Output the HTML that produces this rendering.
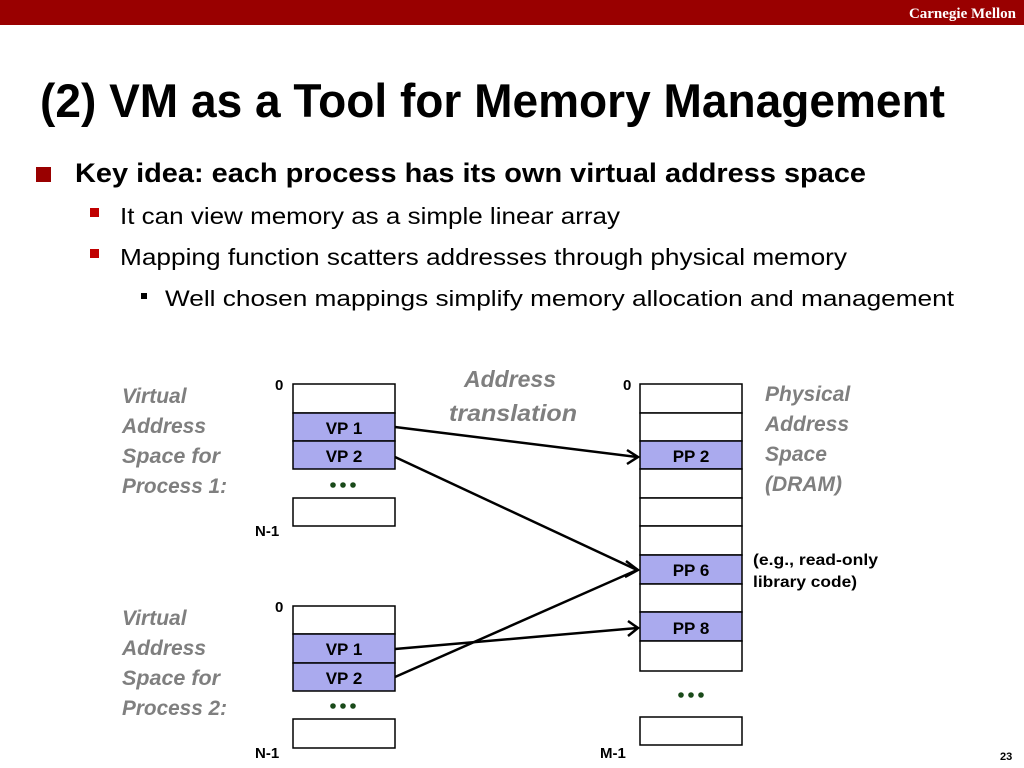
<!DOCTYPE html>
<html><head><meta charset="utf-8"><style>
html,body{margin:0;padding:0;background:#fff;}
svg{display:block;}
text{font-family:"Liberation Sans",sans-serif;}
</style></head><body>
<svg width="1024" height="768" viewBox="0 0 1024 768" xmlns="http://www.w3.org/2000/svg">
<rect x="0" y="0" width="1024" height="25" fill="#990000"/>
<text x="1016" y="18" text-anchor="end" font-weight="bold" font-size="15" fill="#fff" style="font-family:'Liberation Serif',serif">Carnegie Mellon</text>
<text x="40" y="117" font-weight="bold" font-size="47" textLength="905" lengthAdjust="spacingAndGlyphs" fill="#000">(2) VM as a Tool for Memory Management</text>
<rect x="36" y="167" width="15" height="15" fill="#990000"/>
<text x="75" y="182" font-weight="bold" font-size="27" textLength="791" lengthAdjust="spacingAndGlyphs">Key idea: each process has its own virtual address space</text>
<rect x="90" y="208" width="9" height="9" fill="#c00000"/>
<text x="120" y="224" font-size="23" textLength="500" lengthAdjust="spacingAndGlyphs">It can view memory as a simple linear array</text>
<rect x="90" y="249" width="9" height="9" fill="#c00000"/>
<text x="120" y="265" font-size="23" textLength="727" lengthAdjust="spacingAndGlyphs">Mapping function scatters addresses through physical memory</text>
<rect x="141" y="293" width="6" height="6" fill="#000"/>
<text x="165" y="306" font-size="22" textLength="789" lengthAdjust="spacingAndGlyphs">Well chosen mappings simplify memory allocation and management</text>

<g font-weight="bold" font-style="italic" font-size="21" fill="#7f7f7f">
<text x="122" y="403">Virtual</text><text x="122" y="433">Address</text><text x="122" y="463" textLength="98" lengthAdjust="spacingAndGlyphs">Space for</text><text x="122" y="493" textLength="105" lengthAdjust="spacingAndGlyphs">Process 1:</text>
<text x="122" y="625">Virtual</text><text x="122" y="655">Address</text><text x="122" y="685" textLength="98" lengthAdjust="spacingAndGlyphs">Space for</text><text x="122" y="715" textLength="105" lengthAdjust="spacingAndGlyphs">Process 2:</text>
<text x="765" y="401">Physical</text><text x="765" y="431">Address</text><text x="765" y="461">Space</text><text x="765" y="491">(DRAM)</text>
<text x="510" y="387" text-anchor="middle" font-size="23">Address</text>
<text x="513" y="421" text-anchor="middle" font-size="23" textLength="128" lengthAdjust="spacingAndGlyphs">translation</text>
</g>

<g stroke="#000" stroke-width="1.5">
<rect x="293" y="384" width="102" height="29" fill="#fff"/>
<rect x="293" y="413" width="102" height="28" fill="#aaaaee"/>
<rect x="293" y="441" width="102" height="28" fill="#aaaaee"/>
<rect x="293" y="498" width="102" height="28" fill="#fff"/>
<rect x="293" y="606" width="102" height="28" fill="#fff"/>
<rect x="293" y="634" width="102" height="29" fill="#aaaaee"/>
<rect x="293" y="663" width="102" height="28" fill="#aaaaee"/>
<rect x="293" y="719" width="102" height="29" fill="#fff"/>
<rect x="640" y="384" width="102" height="29" fill="#fff"/>
<rect x="640" y="413" width="102" height="28" fill="#fff"/>
<rect x="640" y="441" width="102" height="28" fill="#aaaaee"/>
<rect x="640" y="469" width="102" height="29" fill="#fff"/>
<rect x="640" y="498" width="102" height="28" fill="#fff"/>
<rect x="640" y="526" width="102" height="29" fill="#fff"/>
<rect x="640" y="555" width="102" height="29" fill="#aaaaee"/>
<rect x="640" y="584" width="102" height="28" fill="#fff"/>
<rect x="640" y="612" width="102" height="29" fill="#aaaaee"/>
<rect x="640" y="641" width="102" height="30" fill="#fff"/>
<rect x="640" y="717" width="102" height="28" fill="#fff"/>
</g>
<g font-weight="bold" font-size="17" text-anchor="middle">
<text x="344" y="434">VP 1</text><text x="344" y="462">VP 2</text>
<text x="344" y="655">VP 1</text><text x="344" y="684">VP 2</text>
<text x="691" y="462">PP 2</text><text x="691" y="576">PP 6</text><text x="691" y="634">PP 8</text>
</g>
<g fill="#1a4a1a">
<circle cx="333" cy="485" r="2.8"/><circle cx="343" cy="485" r="2.8"/><circle cx="353" cy="485" r="2.8"/>
<circle cx="333" cy="706" r="2.8"/><circle cx="343" cy="706" r="2.8"/><circle cx="353" cy="706" r="2.8"/>
<circle cx="681" cy="695" r="2.8"/><circle cx="691" cy="695" r="2.8"/><circle cx="701" cy="695" r="2.8"/>
</g>
<g font-weight="bold" font-size="15">
<text x="275" y="390">0</text><text x="623" y="390">0</text>
<text x="255" y="536">N-1</text><text x="275" y="612">0</text>
<text x="255" y="758">N-1</text><text x="600" y="758">M-1</text>
<text x="753" y="565" font-size="16" textLength="125" lengthAdjust="spacingAndGlyphs">(e.g., read-only</text><text x="753" y="587" font-size="16" textLength="104" lengthAdjust="spacingAndGlyphs">library code)</text>
</g>
<text x="1000" y="760" font-weight="bold" font-size="11">23</text>
<g stroke="#000" stroke-width="2.5" fill="none">
<line x1="395" y1="427" x2="637" y2="457"/>
<line x1="395" y1="457" x2="637" y2="570"/>
<line x1="395" y1="649" x2="637" y2="628"/>
<line x1="395" y1="677" x2="637" y2="570"/>
<polyline points="627,450 638,457 627,464"/>
<polyline points="626,561 638,570 625,577"/>
<polyline points="628,621 638,628 628,636"/>
</g>
</svg>
</body></html>
